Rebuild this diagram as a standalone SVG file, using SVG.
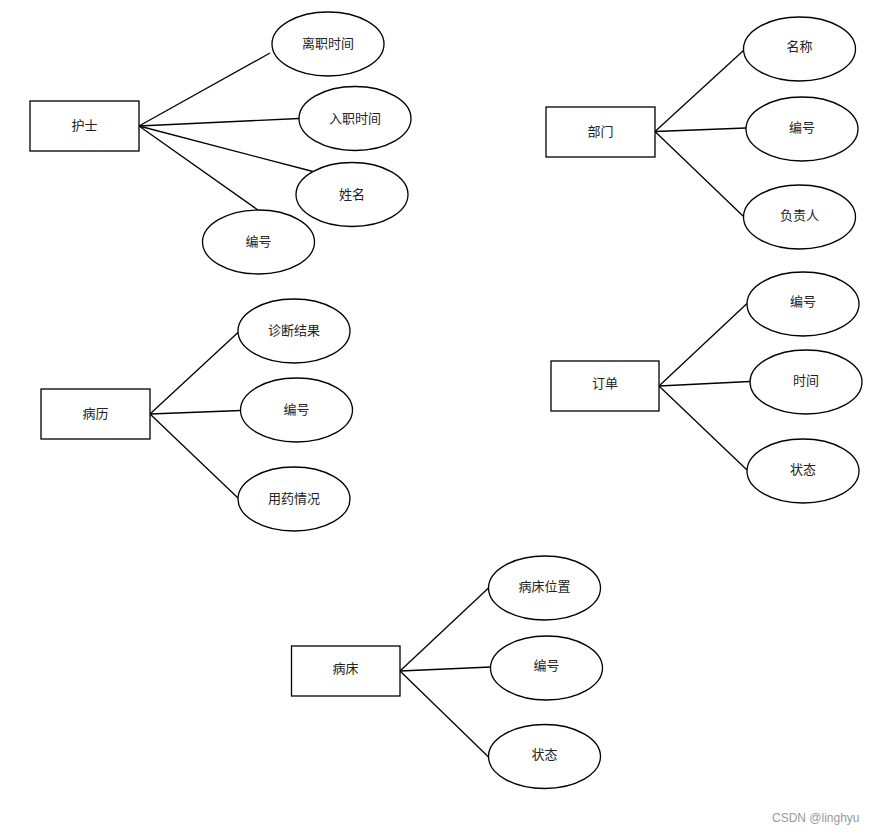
<svg xmlns="http://www.w3.org/2000/svg" width="874" height="834" viewBox="0 0 874 834">
<style>
.e{fill:#fff;stroke:#000;stroke-width:1.3}
.r{fill:#fff;stroke:#000;stroke-width:1.3}
.c line{stroke:#000;stroke-width:1.3}
text{font-family:"Noto Sans CJK SC","Liberation Sans",sans-serif;font-size:13px;fill:#222;text-anchor:middle;dominant-baseline:central}
.wm{font-family:"Liberation Sans",sans-serif;font-size:12px;fill:#999;text-anchor:start}
</style>
<rect width="874" height="834" fill="#fff"/>
<g class="c" id="connectors">
<line x1="139" y1="126" x2="270" y2="53"/>
<line x1="139" y1="126" x2="299" y2="118.5"/>
<line x1="139" y1="126" x2="313" y2="171.5"/>
<line x1="139" y1="126" x2="258" y2="210"/>
<line x1="655" y1="131.5" x2="743.5" y2="50.5"/>
<line x1="655" y1="131.5" x2="746" y2="128"/>
<line x1="655" y1="131.5" x2="743" y2="216"/>
<line x1="150" y1="414" x2="238" y2="332.5"/>
<line x1="150" y1="414" x2="241" y2="410.5"/>
<line x1="150" y1="414" x2="238" y2="498"/>
<line x1="659" y1="386" x2="747" y2="303.5"/>
<line x1="659" y1="386" x2="750" y2="381.5"/>
<line x1="659" y1="386" x2="747" y2="470"/>
<line x1="400" y1="671" x2="488.5" y2="588"/>
<line x1="400" y1="671" x2="491" y2="667"/>
<line x1="400" y1="671" x2="488.5" y2="757"/>
</g>
<g id="n-hushi"><rect class="r" x="30" y="101" width="109" height="50"/><text x="84.5" y="124.5">护士</text></g>
<g id="n-lizhi"><ellipse class="e" cx="328" cy="44" rx="56" ry="32"/><text x="328" y="42.5">离职时间</text></g>
<g id="n-ruzhi"><ellipse class="e" cx="355" cy="118.5" rx="56" ry="32"/><text x="355" y="117">入职时间</text></g>
<g id="n-xingming"><ellipse class="e" cx="352" cy="194.5" rx="56" ry="32"/><text x="352" y="193">姓名</text></g>
<g id="n-hs-bianhao"><ellipse class="e" cx="258.5" cy="242" rx="56" ry="32"/><text x="258.5" y="240.5">编号</text></g>

<g id="n-bumen"><rect class="r" x="546" y="107" width="109" height="50"/><text x="600.5" y="130.5">部门</text></g>
<g id="n-mingcheng"><ellipse class="e" cx="799.5" cy="49" rx="56" ry="32"/><text x="799.5" y="45.5">名称</text></g>
<g id="n-bm-bianhao"><ellipse class="e" cx="802" cy="129" rx="56" ry="32"/><text x="802" y="126.5">编号</text></g>
<g id="n-fuzeren"><ellipse class="e" cx="799.5" cy="217" rx="56" ry="32"/><text x="799.5" y="214.5">负责人</text></g>

<g id="n-bingli"><rect class="r" x="41" y="389" width="109" height="50"/><text x="95.5" y="412.5">病历</text></g>
<g id="n-zhenduan"><ellipse class="e" cx="294" cy="331" rx="56" ry="32"/><text x="294" y="329.5">诊断结果</text></g>
<g id="n-bl-bianhao"><ellipse class="e" cx="296.5" cy="410" rx="56" ry="32"/><text x="296.5" y="408.5">编号</text></g>
<g id="n-yongyao"><ellipse class="e" cx="294" cy="499" rx="56" ry="32"/><text x="294" y="497.5">用药情况</text></g>

<g id="n-dingdan"><rect class="r" x="551" y="361" width="108" height="50"/><text x="605" y="382.5">订单</text></g>
<g id="n-dd-bianhao"><ellipse class="e" cx="803" cy="304" rx="56" ry="32"/><text x="803" y="300.5">编号</text></g>
<g id="n-shijian"><ellipse class="e" cx="806" cy="382" rx="56" ry="32"/><text x="806" y="379.5">时间</text></g>
<g id="n-dd-zhuangtai"><ellipse class="e" cx="803" cy="471" rx="56" ry="32"/><text x="803" y="468.5">状态</text></g>

<g id="n-bingchuang"><rect class="r" x="291.5" y="646" width="108.5" height="50"/><text x="345.5" y="667.5">病床</text></g>
<g id="n-weizhi"><ellipse class="e" cx="544.5" cy="588" rx="56" ry="32"/><text x="544.5" y="585.5">病床位置</text></g>
<g id="n-bc-bianhao"><ellipse class="e" cx="546.5" cy="668" rx="56" ry="32"/><text x="546.5" y="664.5">编号</text></g>
<g id="n-bc-zhuangtai"><ellipse class="e" cx="544.5" cy="756.5" rx="56" ry="32"/><text x="544.5" y="753.5">状态</text></g>

<text class="wm" x="772" y="818">CSDN @linghyu</text>
</svg>
